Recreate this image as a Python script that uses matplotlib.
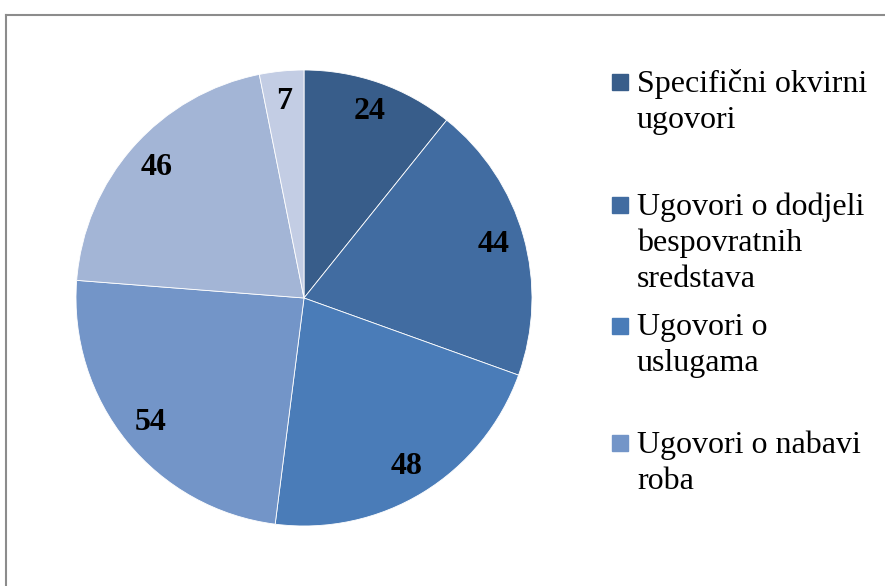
import matplotlib
matplotlib.use("Agg")
import matplotlib.pyplot as plt
from matplotlib.patches import Rectangle

values = [24, 44, 48, 54, 46, 7]
colors = ["#385D8A", "#416CA1", "#4A7CB8", "#7395C8", "#A3B5D6", "#C3CDE4"]
legend_labels = ["Specifični okvirni\nugovori",
                 "Ugovori o dodjeli\nbespovratnih\nsredstava",
                 "Ugovori o\nuslugama",
                 "Ugovori o nabavi\nroba"]
legend_y = [82, 205, 326, 443]   # top of first line, in pixels from top

W, H = 885, 586
fig = plt.figure(figsize=(W / 100, H / 100), dpi=100)
plt.rcParams['font.family'] = ['Liberation Serif', 'DejaVu Serif']

# chart border (cropped screenshot: only left and top edges visible)
fig.add_artist(plt.Line2D([6 / W, 6 / W], [0, 1 - 15 / H], color="#8c8c8c", lw=1.5))
fig.add_artist(plt.Line2D([6 / W, 1], [1 - 15 / H, 1 - 15 / H], color="#8c8c8c", lw=1.5))

# pie: centre (304, 298), radius 228 px
cx, cy, r = 304, 298, 228
ax = fig.add_axes([(cx - r) / W, 1 - (cy + r) / H, 2 * r / W, 2 * r / H])
wedges, texts = ax.pie(values, colors=colors, startangle=90, counterclock=False,
                       labels=[str(v) for v in values], labeldistance=0.865,
                       wedgeprops=dict(linewidth=0.6, edgecolor="white"),
                       textprops=dict(fontsize=23, fontweight="bold",
                                      ha="center", va="center"))
ax.set_xlim(-1, 1)
ax.set_ylim(-1, 1)
ax.set_aspect("auto")

# legend drawn by hand to keep Word's uneven spacing
for lab, col, y in zip(legend_labels, colors, legend_y):
    fig.add_artist(Rectangle((612 / W, 1 - (y + 8) / H), 16 / W, 16 / H,
                             transform=fig.transFigure, color=col))
    fig.text(637 / W, 1 - (y - 13) / H, lab, fontsize=23, va="top", ha="left",
             linespacing=1.32)

fig.savefig("out.png", dpi=100)
